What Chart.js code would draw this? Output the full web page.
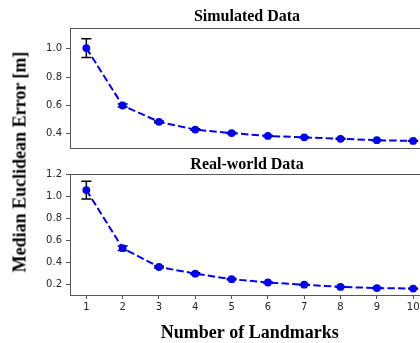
<!DOCTYPE html>
<html>
<head>
<meta charset="utf-8">
<script src="https://cdn.jsdelivr.net/npm/chart.js@4/dist/chart.umd.min.js"></script>
<style>
  html, body { margin: 0; padding: 0; background: #fff; overflow: hidden; }
  #wrap { position: relative; width: 420px; height: 343px; overflow: hidden; }
  #wrap canvas { position: absolute; left: 0; }
  #ylabel {
    position: absolute; left: 20px; top: 162px;
    transform: translate(-50%, -50%) rotate(-90deg);
    font: bold 18px "Liberation Serif", "Times New Roman", serif;
    white-space: nowrap; color: #000;
  }
</style>
</head>
<body>
<div id="wrap">
  <canvas id="simChart" style="top:0px" width="440" height="152"></canvas>
  <canvas id="realChart" style="top:152px" width="440" height="191"></canvas>
  <div id="ylabel">Median Euclidean Error [m]</div>
</div>
<script>
// data
const landmarks = [1, 2, 3, 4, 5, 6, 7, 8, 9, 10];
const simValues = [1.005, 0.60, 0.485, 0.43, 0.405, 0.385, 0.375, 0.365, 0.355, 0.35];
const simErrors = [0.067, 0.01, 0.006, 0.005, 0.004, 0.004, 0.003, 0.003, 0.003, 0.003];
const realValues = [1.055, 0.53, 0.36, 0.30, 0.25, 0.22, 0.20, 0.18, 0.17, 0.165];
const realErrors = [0.08, 0.02, 0.01, 0.008, 0.006, 0.005, 0.005, 0.004, 0.004, 0.004];
const simTicks = [0.4, 0.6, 0.8, 1.0];
const realTicks = [0.2, 0.4, 0.6, 0.8, 1.0, 1.2];

const tickFont = { family: "DejaVu Sans", size: 10 };
const tickColor = "#262626";
const frameColor = "#555";

// error bars + frame + subplot title
const extrasPlugin = {
  id: "extras",
  beforeDatasetsDraw(chart, args, opts) {
    const { ctx } = chart;
    const xs = chart.scales.x, ys = chart.scales.y;
    const vals = chart.data.datasets[0].data;
    ctx.save();
    ctx.strokeStyle = "#000";
    ctx.lineWidth = 1.5;
    vals.forEach((p, i) => {
      const e = opts.errors[i];
      const x = xs.getPixelForValue(p.x);
      const y1 = ys.getPixelForValue(p.y - e);
      const y2 = ys.getPixelForValue(p.y + e);
      ctx.beginPath();
      ctx.moveTo(x, y1); ctx.lineTo(x, y2);
      ctx.moveTo(x - 5, y1); ctx.lineTo(x + 5, y1);
      ctx.moveTo(x - 5, y2); ctx.lineTo(x + 5, y2);
      ctx.stroke();
    });
    ctx.restore();
  },
  afterDraw(chart, args, opts) {
    const { ctx, chartArea: a } = chart;
    ctx.save();
    ctx.strokeStyle = frameColor;
    ctx.lineWidth = 1;
    ctx.strokeRect(Math.round(a.left) + 0.5, Math.round(a.top) + 0.5,
      Math.round(a.right - a.left), Math.round(a.bottom - a.top));
    ctx.fillStyle = "#000";
    ctx.font = 'bold 16px "Liberation Serif", "Times New Roman", serif';
    ctx.textAlign = "center";
    ctx.textBaseline = "alphabetic";
    ctx.fillText(opts.title, 247, a.top - opts.titleGap);
    ctx.restore();
  }
};

function makeChart(id, values, errors, yTicks, yMin, yMax, opts) {
  const points = landmarks.map((x, i) => ({ x: x, y: values[i] }));
  return new Chart(document.getElementById(id), {
    type: "line",
    data: {
      datasets: [{
        data: points,
        borderColor: "#0000ff",
        backgroundColor: "#0000ff",
        borderWidth: 2,
        borderDash: [7.4, 3.2],
        pointRadius: 3.9,
        pointBorderWidth: 0,
        pointBackgroundColor: "#0000ff",
        fill: false,
        tension: 0,
      }],
    },
    options: {
      responsive: false,
      animation: false,
      layout: { padding: opts.padding },
      scales: {
        x: {
          type: "linear",
          min: 0.55,
          max: 10.45,
          display: opts.showX,
          afterBuildTicks: (s) => { s.ticks = landmarks.map(v => ({ value: v })); },
          afterFit: (s) => { s.height = opts.showX ? 48 : 0; },
          ticks: { font: tickFont, color: tickColor, padding: 2, maxRotation: 0 },
          grid: { drawOnChartArea: false, drawTicks: true, tickLength: 4, color: frameColor },
          border: { display: false },
          title: {
            display: true,
            text: "Number of Landmarks",
            color: "#000",
            font: { family: "Liberation Serif", size: 18, weight: "bold", lineHeight: 1.1 },
            padding: { top: 0, bottom: 0 },
          },
        },
        y: {
          type: "linear",
          min: yMin,
          max: yMax,
          afterBuildTicks: (s) => { s.ticks = yTicks.map(v => ({ value: v })); },
          afterFit: (s) => { s.width = 70; s.paddingTop = 0; s.paddingBottom = 0; },
          ticks: {
            font: tickFont, color: tickColor, padding: 4,
            callback: (v) => Number(v).toFixed(1),
          },
          grid: { drawOnChartArea: false, drawTicks: true, tickLength: 4, color: frameColor },
          border: { display: false },
        },
      },
      plugins: {
        legend: { display: false },
        tooltip: { enabled: false },
        extras: { errors: errors, title: opts.title, titleGap: opts.titleGap },
      },
    },
    plugins: [extrasPlugin],
  });
}

makeChart("simChart", simValues, simErrors, simTicks, 0.30, 1.147, {
  padding: { left: 0, top: 28, right: 10.5, bottom: 1.5 },
  showX: false,
  title: "Simulated Data",
  titleGap: 7.5,
});

makeChart("realChart", realValues, realErrors, realTicks, 0.107, 1.2, {
  padding: { left: 0, top: 22, right: 10.5, bottom: 0 },
  showX: true,
  title: "Real-world Data",
  titleGap: 4.8,
});
</script>
</body>
</html>
